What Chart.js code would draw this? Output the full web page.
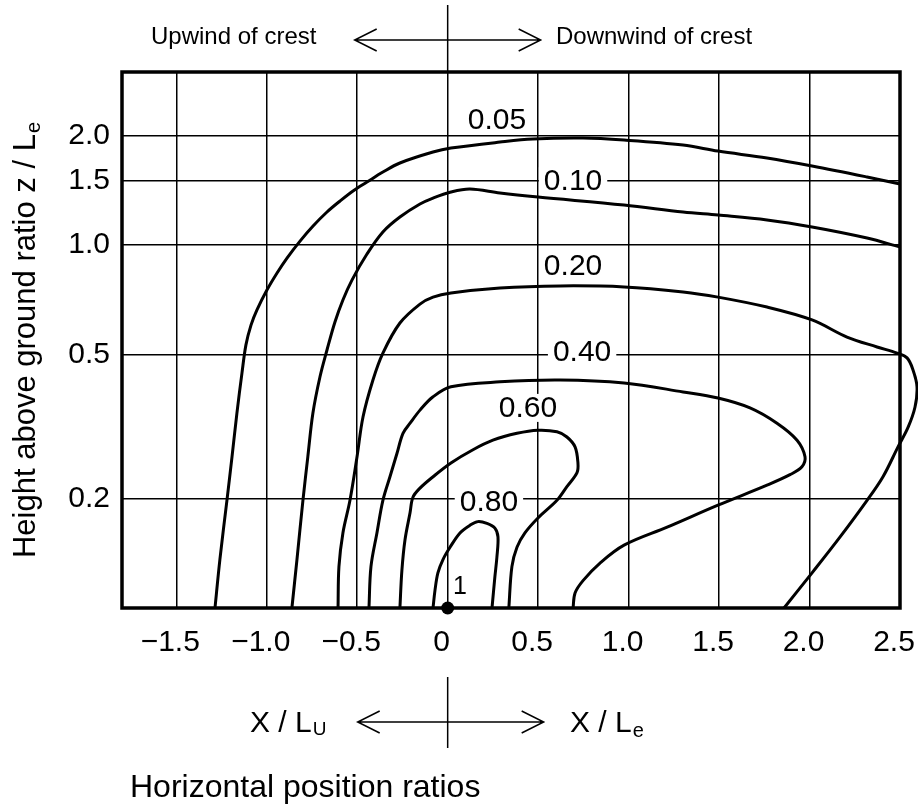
<!DOCTYPE html>
<html>
<head>
<meta charset="utf-8">
<title>Topographic multiplier contours</title>
<script src="https://cdn.jsdelivr.net/npm/chart.js@4.4.1/dist/chart.umd.min.js"></script>
<style>
	html, body { margin: 0; padding: 0; background: #fff; }
	#wrap { width: 918px; height: 809px; }
</style>
</head>
<body>
<div id="wrap"><canvas id="chart" width="918" height="809"></canvas></div>
<script>
// axis ticks
var xTicks = [-1.5, -1, -0.5, 0, 0.5, 1, 1.5, 2, 2.5];
var xTickLabels = ['\u22121.5', '\u22121.0', '\u22120.5', '0', '0.5', '1.0', '1.5', '2.0', '2.5'];
var yTicks = [0.2, 0.5, 1, 1.5, 2];
var yTickLabels = ['0.2', '0.5', '1.0', '1.5', '2.0'];

// contour lines, [x, z/L]
var k005 = [[-1.286,0.1],[-1.259,0.136],[-1.220,0.198],[-1.192,0.261],[-1.165,0.344],[-1.137,0.444],[-1.115,0.531],[-1.087,0.602],[-1.054,0.663],[-0.999,0.752],[-0.943,0.838],[-0.888,0.921],[-0.816,1.026],[-0.744,1.129],[-0.667,1.234],[-0.595,1.323],[-0.523,1.410],[-0.446,1.492],[-0.358,1.590],[-0.264,1.684],[-0.081,1.805],[0.018,1.851],[0.289,1.923],[0.471,1.961],[0.748,1.973],[0.975,1.948],[1.301,1.887],[1.494,1.816],[1.765,1.738],[2.014,1.652],[2.318,1.541],[2.5,1.474]];
var k010 = [[-0.861,0.1],[-0.833,0.136],[-0.800,0.198],[-0.773,0.261],[-0.745,0.344],[-0.706,0.433],[-0.667,0.514],[-0.623,0.614],[-0.579,0.706],[-0.529,0.801],[-0.446,0.945],[-0.358,1.087],[-0.264,1.195],[-0.153,1.298],[-0.081,1.348],[0.018,1.401],[0.123,1.428],[0.289,1.392],[0.499,1.357],[0.975,1.290],[1.301,1.234],[1.494,1.210],[1.765,1.173],[2.014,1.122],[2.318,1.046],[2.5,0.988]];
var k020 = [[-0.606,0.1],[-0.601,0.130],[-0.579,0.161],[-0.540,0.198],[-0.501,0.261],[-0.468,0.336],[-0.413,0.425],[-0.358,0.504],[-0.264,0.610],[-0.153,0.688],[-0.081,0.719],[0.018,0.738],[0.289,0.762],[0.621,0.772],[0.975,0.767],[1.301,0.743],[1.494,0.719],[1.765,0.675],[2.014,0.622],[2.207,0.558],[2.373,0.524],[2.484,0.504],[2.539,0.489],[2.572,0.453],[2.594,0.407],[2.583,0.358],[2.545,0.315],[2.489,0.278],[2.406,0.230],[2.318,0.198],[2.169,0.157],[2.014,0.125],[1.859,0.1]];
var k040 = [[-0.435,0.1],[-0.424,0.130],[-0.391,0.161],[-0.358,0.198],[-0.319,0.230],[-0.280,0.267],[-0.247,0.303],[-0.208,0.323],[-0.153,0.351],[-0.081,0.382],[0.018,0.407],[0.289,0.420],[0.621,0.425],[0.975,0.417],[1.301,0.394],[1.494,0.379],[1.671,0.356],[1.820,0.323],[1.931,0.290],[1.975,0.261],[1.958,0.245],[1.892,0.233],[1.765,0.218],[1.494,0.192],[1.213,0.167],[0.975,0.149],[0.842,0.133],[0.748,0.119],[0.704,0.110],[0.693,0.1]];
var k060 = [[-0.264,0.1],[-0.253,0.127],[-0.236,0.154],[-0.208,0.183],[-0.192,0.202],[-0.153,0.214],[-0.081,0.230],[0.018,0.251],[0.140,0.273],[0.250,0.290],[0.383,0.303],[0.499,0.309],[0.604,0.306],[0.659,0.296],[0.704,0.278],[0.720,0.251],[0.715,0.236],[0.659,0.216],[0.604,0.198],[0.499,0.177],[0.427,0.161],[0.383,0.147],[0.355,0.130],[0.338,0.1]];
var k080 = [[-0.081,0.1],[-0.070,0.112],[-0.054,0.125],[-0.026,0.136],[0.013,0.147],[0.068,0.161],[0.123,0.169],[0.167,0.173],[0.217,0.171],[0.261,0.166],[0.278,0.157],[0.272,0.138],[0.261,0.122],[0.245,0.1]];

// crest point
var crest = [[0, 0.1]];

// contour labels: text, anchor x, anchor z/L, white box behind
var contourLabels = [
	['0.05', 0.272, 2.21, false],
	['0.10', 0.693, 1.50, true],
	['0.20', 0.693, 0.876, false],
	['0.40', 0.743, 0.51, true],
	['0.60', 0.444, 0.356, true],
	['0.80', 0.228, 0.196, true]
];
var crestLabel = ['1', 0.068, 0.114];

var FONT = '"Liberation Sans", Arial, Helvetica, sans-serif';

function toXY(arr) {
	return arr.map(function (p) { return {x: p[0], y: p[1]}; });
}

var datasets = [k005, k010, k020, k040, k060, k080].map(function (k) {
	return {
		data: toXY(k),
		showLine: true,
		borderColor: '#000',
		borderWidth: 3,
		pointRadius: 0,
		tension: 0.35,
		fill: false,
		clip: false
	};
});
datasets.push({
	data: toXY(crest),
	showLine: false,
	pointRadius: 6.5,
	pointBackgroundColor: '#000',
	pointBorderWidth: 0,
	clip: false
});

// text with a subscript, left aligned at x
function drawSub(ctx, x, y, main, sub, size, subSize, drop) {
	ctx.font = size + 'px ' + FONT;
	ctx.fillText(main, x, y);
	var w = ctx.measureText(main).width;
	ctx.font = subSize + 'px ' + FONT;
	ctx.fillText(sub, x + w + 1, y + drop);
}

function subWidth(ctx, main, sub, size, subSize) {
	ctx.font = size + 'px ' + FONT;
	var w = ctx.measureText(main).width;
	ctx.font = subSize + 'px ' + FONT;
	return w + 1 + ctx.measureText(sub).width;
}

function doubleArrow(ctx, cx, y, half, head, hh) {
	ctx.beginPath();
	ctx.moveTo(cx - half, y); ctx.lineTo(cx + half, y);
	ctx.moveTo(cx - half + head, y - hh); ctx.lineTo(cx - half, y); ctx.lineTo(cx - half + head, y + hh);
	ctx.moveTo(cx + half - head, y - hh); ctx.lineTo(cx + half, y); ctx.lineTo(cx + half - head, y + hh);
	ctx.stroke();
}

var annotations = {
	id: 'annotations',
	beforeDatasetsDraw: function (chart) {
		var ctx = chart.ctx, a = chart.chartArea;
		var xs = chart.scales.x, ys = chart.scales.y;
		ctx.save();
		ctx.font = '30px ' + FONT;
		contourLabels.forEach(function (l) {
			if (!l[3]) return;
			var px = xs.getPixelForValue(l[1]), py = ys.getPixelForValue(l[2]);
			var w = ctx.measureText(l[0]).width;
			ctx.fillStyle = '#fff';
			ctx.fillRect(px - w / 2 - 5, py - 14, w + 10, 28);
		});
		ctx.strokeStyle = '#000';
		ctx.lineWidth = 3.5;
		ctx.strokeRect(a.left, a.top, a.right - a.left, a.bottom - a.top);

		ctx.fillStyle = '#000';
		ctx.textAlign = 'center';
		ctx.textBaseline = 'middle';
		contourLabels.forEach(function (l) {
			ctx.fillText(l[0], xs.getPixelForValue(l[1]), ys.getPixelForValue(l[2]) + 1);
		});
		ctx.font = '25px ' + FONT;
		ctx.fillText(crestLabel[0], xs.getPixelForValue(crestLabel[1]), ys.getPixelForValue(crestLabel[2]));
		ctx.restore();
	},
	afterDraw: function (chart) {
		var ctx = chart.ctx, a = chart.chartArea;
		var x0 = chart.scales.x.getPixelForValue(0);
		ctx.save();
		ctx.strokeStyle = '#000';
		ctx.fillStyle = '#000';
		ctx.lineWidth = 1.5;

		// top: crest line and wind direction
		ctx.beginPath();
		ctx.moveTo(x0, 5); ctx.lineTo(x0, a.top);
		ctx.stroke();
		doubleArrow(ctx, x0, 40, 93, 22, 11);
		ctx.textAlign = 'left';
		ctx.textBaseline = 'alphabetic';
		ctx.font = '24px ' + FONT;
		ctx.fillText('Upwind of crest', 151, 44);
		ctx.fillText('Downwind of crest', 556, 44);

		// bottom: ratio legend
		ctx.beginPath();
		ctx.moveTo(x0, 677); ctx.lineTo(x0, 748);
		ctx.stroke();
		doubleArrow(ctx, x0 + 3, 722, 93, 22, 11);
		drawSub(ctx, 250, 732, 'X / L', 'U', 30, 19, 3);
		drawSub(ctx, 570, 732, 'X / L', 'e', 30, 20, 5);
		ctx.font = '32px ' + FONT;
		ctx.fillText('Horizontal position ratios', 130, 797);

		// y title
		ctx.translate(35, 340);
		ctx.rotate(-Math.PI / 2);
		var tw = subWidth(ctx, 'Height above ground ratio z / L', 'e', 31, 20);
		drawSub(ctx, -tw / 2, 0, 'Height above ground ratio z / L', 'e', 31, 20, 5);
		ctx.restore();
	}
};

var chart = new Chart(document.getElementById('chart'), {
	type: 'scatter',
	data: { datasets: datasets },
	options: {
		responsive: false,
		animation: false,
		layout: { padding: { left: 0, top: 72, right: 18, bottom: 0 } },
		plugins: {
			legend: { display: false },
			tooltip: { enabled: false }
		},
		scales: {
			x: {
				type: 'linear',
				min: -1.8,
				max: 2.5,
				afterBuildTicks: function (scale) {
					scale.ticks = xTicks.map(function (v) { return {value: v}; });
				},
				afterFit: function (scale) {
					scale.height = 201;
					scale.paddingLeft = 0;
					scale.paddingRight = 0;
				},
				grid: { color: '#000', lineWidth: 1.5, drawTicks: false },
				border: { display: false },
				ticks: {
					color: '#000',
					font: { family: FONT, size: 30 },
					padding: 17,
					labelOffset: -6,
					autoSkip: false,
					maxRotation: 0,
					callback: function (v, i) { return xTickLabels[i]; }
				}
			},
			y: {
				type: 'logarithmic',
				min: 0.1,
				max: 3,
				afterBuildTicks: function (scale) {
					scale.ticks = yTicks.map(function (v) { return {value: v}; });
				},
				afterFit: function (scale) {
					scale.width = 122;
					scale.paddingTop = 0;
					scale.paddingBottom = 0;
				},
				grid: { color: '#000', lineWidth: 1.5, drawTicks: false },
				border: { display: false },
				ticks: {
					color: '#000',
					font: { family: FONT, size: 30 },
					padding: 12,
					autoSkip: false,
					callback: function (v, i) { return yTickLabels[i]; }
				}
			}
		}
	},
	plugins: [annotations]
});
</script>
</body>
</html>
